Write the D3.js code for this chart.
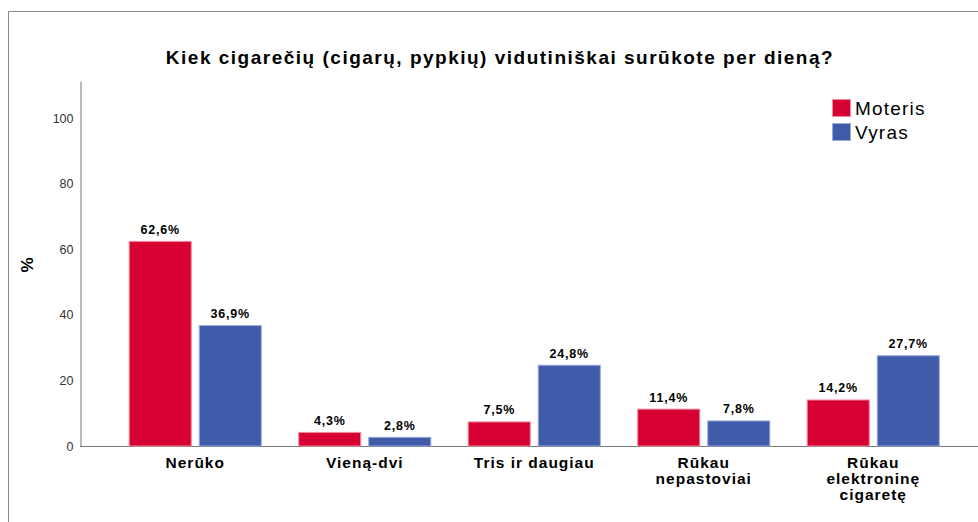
<!DOCTYPE html>
<html>
<head>
<meta charset="utf-8">
<script src="https://cdn.jsdelivr.net/npm/d3@7"></script>
<style>
  body { margin: 0; background: #fff; }
  text { font-family: "Liberation Sans", Arial, sans-serif; }
</style>
</head>
<body>
<div id="graph"></div>
<script>
// Chart data
const categories = ['Nerūko', 'Vieną-dvi', 'Tris ir daugiau', 'Rūkau nepastoviai', 'Rūkau elektroninę cigaretę']
const categoryLines = [['Nerūko'], ['Vieną-dvi'], ['Tris ir daugiau'], ['Rūkau', 'nepastoviai'], ['Rūkau', 'elektroninę', 'cigaretę']]
const groups = ['Moteris', 'Vyras']
const moteris = [62.6, 4.3, 7.5, 11.4, 14.2]
const vyras = [36.9, 2.8, 24.8, 7.8, 27.7]
const yTicks = [0, 20, 40, 60, 80, 100]
const title = 'Kiek cigarečių (cigarų, pypkių) vidutiniškai surūkote per dieną?'

const width = 978, height = 522
const colors = { Moteris: '#d70032', Vyras: '#3f5ba9' }
const borders = { Moteris: '#f08aa0', Vyras: '#9aa9d8' }

const svg = d3.select('#graph')
  .append('svg')
  .attr('width', width)
  .attr('height', height)

// Outer frame (top and left edges)
svg.append('path')
  .attr('d', 'M8.5,' + height + 'V11.5H' + width)
  .attr('fill', 'none')
  .attr('stroke', '#8a8a8a')

// Scales
const x = d3.scaleBand().domain(categories).range([110.5, 958]).paddingInner(0).paddingOuter(0)
const xSub = d3.scaleBand().domain(groups).range([0, x.bandwidth()]).paddingInner(0.1).paddingOuter(0.26)
const y = d3.scaleLinear().domain([0, 111.4]).range([446, 81])

// Title
svg.append('text')
  .attr('x', 500)
  .attr('y', 64)
  .attr('text-anchor', 'middle')
  .style('font-size', '19px')
  .style('font-weight', 'bold')
  .style('letter-spacing', '1.5px')
  .text(title)

// Y axis
const yAxis = svg.append('g')
  .attr('transform', 'translate(80.5,0)')
  .call(d3.axisLeft(y).tickValues(yTicks).tickSize(0).tickPadding(7))
yAxis.select('.domain').attr('stroke', '#777')
yAxis.selectAll('text')
  .style('font-size', '12.5px')
  .style('font-family', '"Liberation Sans", Arial, sans-serif')
  .attr('fill', '#333')

// Baseline
svg.append('line')
  .attr('x1', 80).attr('x2', width)
  .attr('y1', y(0) + 0.5).attr('y2', y(0) + 0.5)
  .attr('stroke', '#777')

// Y axis title
svg.append('text')
  .attr('transform', 'translate(33,' + 265 + ') rotate(-90)')
  .attr('text-anchor', 'middle')
  .style('font-size', '17px')
  .style('font-weight', 'bold')
  .text('%')

// Bars
const rows = categories.map(function (c, i) {
  return { category: c, values: [{ group: 'Moteris', value: moteris[i] }, { group: 'Vyras', value: vyras[i] }] }
})

const catG = svg.selectAll('.cat')
  .data(rows)
  .join('g')
  .attr('class', 'cat')
  .attr('transform', function (d) { return 'translate(' + x(d.category) + ',0)' })

catG.selectAll('rect')
  .data(function (d) { return d.values })
  .join('rect')
  .attr('x', function (d) { return xSub(d.group) + 0.5 })
  .attr('y', function (d) { return y(d.value) + 0.5 })
  .attr('width', xSub.bandwidth() - 1)
  .attr('height', function (d) { return y(0) - y(d.value) - 0.5 })
  .attr('fill', function (d) { return colors[d.group] })
  .attr('stroke', function (d) { return borders[d.group] })
  .attr('stroke-width', 1)

// Value labels
catG.selectAll('.val')
  .data(function (d) { return d.values })
  .join('text')
  .attr('class', 'val')
  .attr('x', function (d) { return xSub(d.group) + xSub.bandwidth() / 2 })
  .attr('y', function (d) { return y(d.value) - 7 })
  .attr('text-anchor', 'middle')
  .style('font-size', '12.5px')
  .style('font-weight', 'bold')
  .style('letter-spacing', '0.8px')
  .text(function (d) { return d3.format('.1f')(d.value).replace('.', ',') + '%' })

// Category labels
catG.append('text')
  .attr('text-anchor', 'middle')
  .style('font-size', '15.5px')
  .style('font-weight', 'bold')
  .style('letter-spacing', '1px')
  .selectAll('tspan')
  .data(function (d, i) { return categoryLines[i] })
  .join('tspan')
  .attr('x', x.bandwidth() / 2)
  .attr('y', function (d, i) { return 468 + i * 16 })
  .text(function (d) { return d })

// Legend
const legend = svg.append('g').attr('transform', 'translate(832,99)')
const legendItem = legend.selectAll('g')
  .data(groups)
  .join('g')
  .attr('transform', function (d, i) { return 'translate(0,' + i * 24 + ')' })
legendItem.append('rect')
  .attr('x', 0.5).attr('y', 0.5)
  .attr('width', 18).attr('height', 17)
  .attr('fill', function (d) { return colors[d] })
  .attr('stroke', function (d) { return borders[d] })
legendItem.append('text')
  .attr('x', 23)
  .attr('y', 16)
  .style('font-size', '19px')
  .style('letter-spacing', '1.2px')
  .text(function (d) { return d })
</script>
</body>
</html>
